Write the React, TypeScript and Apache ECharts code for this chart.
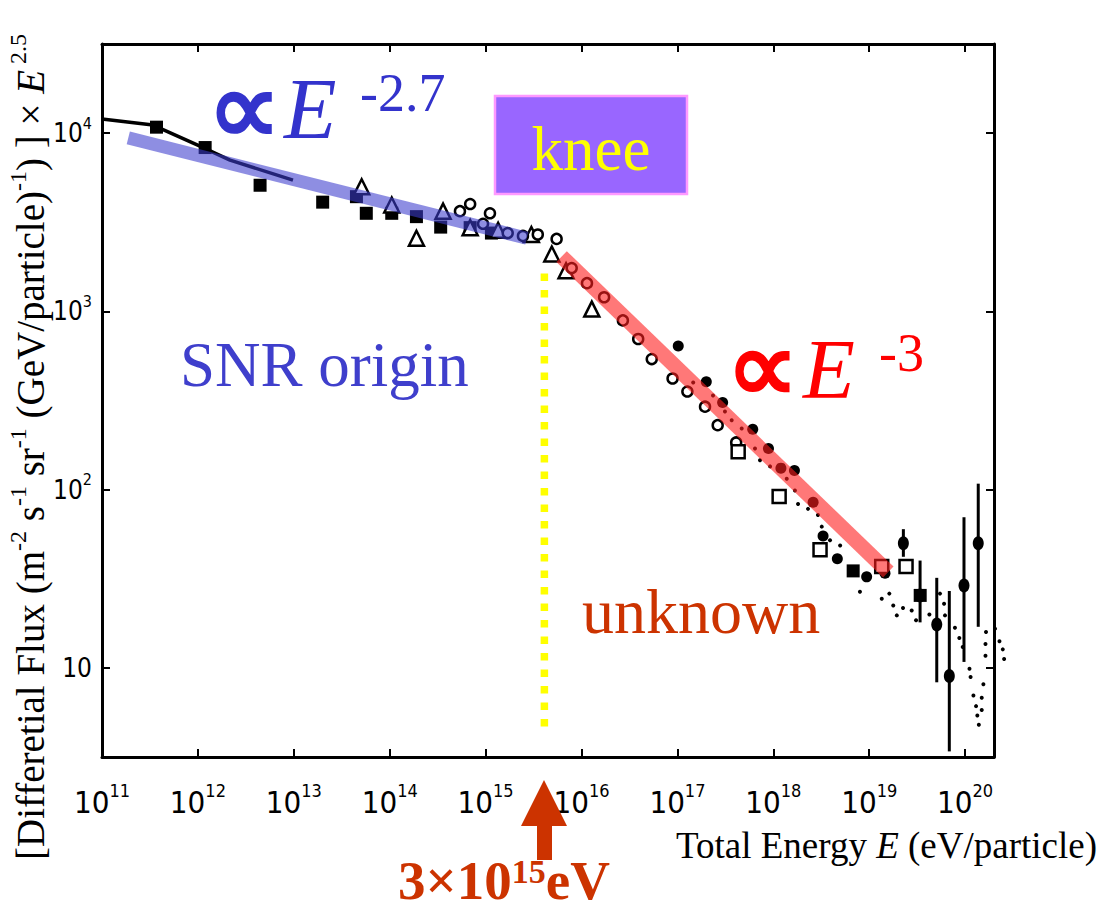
import React, { useEffect, useRef } from 'react';
import * as echarts from 'echarts';

const W = 1106;
const H = 914;

// Axis ranges (eV, flux × E^2.5)
const xRange = [1e11, 2e20];
const yRange = [Math.pow(10, 0.5), Math.pow(10, 4.5)];

// Data: [energy eV, flux]
const blackLine: [number, number][] = [
  [1e11, 12000], [3.4e11, 11100], [1.05e12, 8450], [2.16e12, 7050], [9.8e12, 5450],
];
const filledSquares: [number, number][] = [
  [3.7e11, 10800], [1.19e12, 8300], [4.45e12, 5100], [2.0e13, 4100], [4.5e13, 4400],
  [5.7e13, 3550], [1.05e14, 3550], [1.9e14, 3400], [3.4e14, 2970], [6.9e14, 2950],
  [1.15e15, 2750], [6.8e18, 35], [3.4e19, 25.5],
];
const openTriangles: [number, number][] = [
  [5.1e13, 5000], [1.05e14, 3950], [1.9e14, 2570], [3.6e14, 3650], [6.9e14, 2950],
  [1.35e15, 2850], [3.0e15, 2700], [4.9e15, 2100], [6.9e15, 1690], [1.28e16, 1030],
];
const openCircles: [number, number][] = [
  [5.4e14, 3650], [6.9e14, 4000], [9.4e14, 3100], [1.11e15, 3550], [1.7e15, 2750],
  [2.45e15, 2650], [3.5e15, 2700], [5.5e15, 2550], [7.9e15, 1750], [1.14e16, 1440],
  [1.72e16, 1200], [2.7e16, 890], [3.9e16, 700], [5.4e16, 540], [8.9e16, 420],
  [1.27e17, 355], [1.94e17, 292], [2.63e17, 230], [4.1e17, 184],
];
const filledCircles: [number, number][] = [
  [1.02e17, 640], [2.0e17, 403], [2.96e17, 308], [6.1e17, 218], [8.9e17, 170],
  [1.2e18, 132], [1.66e18, 128], [2.6e18, 85], [3.3e18, 55], [4.65e18, 41],
  [9.4e18, 32.4], [1.46e19, 34],
];
const openSquares: [number, number][] = [
  [4.3e17, 163], [1.15e18, 91.5], [3.07e18, 46], [1.35e19, 37], [2.42e19, 37],
];
const smallDots: [number, number][] = [
  [1.46e17, 399], [2.35e17, 337], [3.13e17, 274], [3.68e17, 245], [4.68e17, 220],
  [6.44e17, 170], [7.26e17, 146], [9.25e17, 135], [1.38e18, 115], [1.68e18, 99],
  [1.81e18, 83], [2.3e18, 78], [2.92e18, 72], [3.2e18, 62], [3.9e18, 52],
  [4.97e18, 48.6], [8.0e18, 26.7], [1.35e19, 24.4], [1.62e19, 26.1], [1.78e19, 22.4],
  [1.94e19, 19.7], [2.25e19, 21.7], [2.77e19, 21.0], [3.08e19, 18.5], [4.24e19, 19.9],
  [5.47e19, 26.1], [6.03e19, 22.9], [6.17e19, 19.7], [7.83e19, 16.8], [8.69e19, 14.7],
  [9.44e19, 13.1], [1.11e20, 9.9], [1.14e20, 8.9], [1.22e20, 7.0], [1.3e20, 6.1],
  [1.34e20, 5.4], [1.39e20, 4.8], [1.49e20, 6.8], [1.55e20, 8.1], [1.49e20, 5.8],
  [1.65e20, 15.9], [1.63e20, 13.6], [1.63e20, 11.7], [2.05e20, 16.6], [2.28e20, 14.1],
  [2.47e20, 12.7], [2.55e20, 11.2],
];
// [energy, value, low, high]
const errorBars: [number, number, number, number][] = [
  [2.27e19, 50, 42, 60], [3.39e19, 25.5, 18, 40], [5.06e19, 17.5, 8.3, 32],
  [6.84e19, 9.0, 3.4, 27], [9.73e19, 29, 10.8, 70], [1.37e20, 50, 17, 108],
];
const blueBand: [number, number][] = [[1.88e11, 9400], [2.69e15, 2570]];
const redBand: [number, number][] = [[6.2e15, 2030], [1.58e19, 34.5]];
const kneeLine: [number, number][] = [[4.1e15, 1630], [4.1e15, 4.23]];

const SERIF = "'Liberation Serif', 'Times New Roman', Times, serif";
const SANS = "'Liberation Sans Narrow', 'DejaVu Sans Condensed', 'Liberation Sans', Arial, sans-serif";

export default function App() {
  const ref = useRef<HTMLDivElement>(null);

  useEffect(() => {
    if (!ref.current) return;
    const chart = echarts.init(ref.current, null, { renderer: 'svg' });

    const fmt = (v: number) => {
      const e = Math.log10(v);
      const r = Math.round(e);
      if (Math.abs(e - r) > 1e-6) return '';
      if (r === 1) return '{b|10}';
      return `{b|10}{s|${r}}`;
    };

    const axisLine = { show: true, onZero: false, lineStyle: { color: '#000', width: 3 } };
    const axisTick = { show: true, inside: true, length: 8, lineStyle: { color: '#000', width: 2 } };

    const xRich = {
      b: { fontSize: 31, fontFamily: SANS, color: '#000', lineHeight: 42 },
      s: { fontSize: 18, fontFamily: SANS, color: '#000', verticalAlign: 'top', lineHeight: 18 },
    };
    const yRich = {
      b: { fontSize: 26, fontFamily: SANS, color: '#000', lineHeight: 36 },
      s: { fontSize: 16, fontFamily: SANS, color: '#000', verticalAlign: 'top', lineHeight: 16 },
    };

    const marker = (name: string, data: any, symbol: string, size: any, filled: boolean, extra: any = {}) => ({
      name,
      type: 'scatter',
      data,
      symbol,
      symbolSize: size,
      clip: false,
      z: 3,
      itemStyle: filled
        ? { color: '#000', borderWidth: 0, opacity: 1 }
        : { color: '#fff', borderColor: '#000', borderWidth: 2.5, opacity: 1 },
      ...extra,
    });

    const option: any = {
      animation: false,
      backgroundColor: '#fff',
      grid: { left: 102, right: 112, top: 44, bottom: 157, containLabel: false, outerBoundsMode: 'none' },
      xAxis: [
        {
          type: 'log', logBase: 10, min: xRange[0], max: xRange[1], position: 'bottom',
          axisLine, axisTick, splitLine: { show: false }, minorTick: { show: false },
          axisLabel: { show: true, formatter: fmt, margin: 24, rich: xRich, showMinLabel: true, showMaxLabel: false },
        },
        {
          type: 'log', logBase: 10, min: xRange[0], max: xRange[1], position: 'top',
          axisLine, axisTick, splitLine: { show: false }, axisLabel: { show: false },
        },
      ],
      yAxis: [
        {
          type: 'log', logBase: 10, min: yRange[0], max: yRange[1], position: 'left',
          axisLine, axisTick, splitLine: { show: false }, minorTick: { show: false },
          axisLabel: { show: true, formatter: fmt, margin: 10, rich: yRich, showMinLabel: false, showMaxLabel: false },
        },
        {
          type: 'log', logBase: 10, min: yRange[0], max: yRange[1], position: 'right',
          axisLine, axisTick, splitLine: { show: false }, axisLabel: { show: false },
        },
      ],
      series: [
        {
          name: 'fit', type: 'line', data: blackLine, symbol: 'none', z: 2, clip: false,
          lineStyle: { color: '#000', width: 3.5 },
        },
        marker('filled squares', filledSquares, 'rect', 13, true),
        marker('open triangles', openTriangles, 'triangle', 15, false),
        marker('open circles', openCircles, 'circle', 10, false),
        marker('filled circles', filledCircles, 'circle', 11, true),
        marker('open squares', openSquares, 'rect', 13, false),
        marker('dots', smallDots, 'circle', 4, true),
        {
          name: 'error bars', type: 'custom', data: errorBars, clip: false, z: 3,
          encode: { x: 0, y: [2, 3] },
          renderItem: (params: any, api: any) => {
            const x = api.value(0);
            const p1 = api.coord([x, api.value(2)]);
            const p2 = api.coord([x, api.value(3)]);
            return {
              type: 'line',
              shape: { x1: p1[0], y1: p1[1], x2: p2[0], y2: p2[1] },
              style: { stroke: '#000', lineWidth: 3 },
            };
          },
        },
        marker('error points', errorBars.map((d) => [d[0], d[1]]), 'circle', [11, 14], true),
        {
          name: 'E^-2.7', type: 'line', data: blueBand, symbol: 'none', z: 6, clip: false,
          lineStyle: { color: 'rgba(60,60,205,0.58)', width: 13, cap: 'butt' },
        },
        {
          name: 'E^-3', type: 'line', data: redBand, symbol: 'none', z: 6, clip: false,
          lineStyle: { color: 'rgba(255,30,30,0.6)', width: 15, cap: 'butt' },
        },
        {
          name: 'knee', type: 'line', data: kneeLine, symbol: 'none', z: 6, clip: false,
          lineStyle: { color: '#ffff00', width: 7.5, type: [7.5, 9], cap: 'butt' },
        },
      ],
      graphic: [
        {
          type: 'rect', z: 10,
          shape: { x: 495, y: 96, width: 192, height: 98 },
          style: { fill: '#9966ff', stroke: '#ff99ff', lineWidth: 2.5 },
        },
        {
          type: 'text', z: 11, x: 591, y: 149,
          style: { text: 'knee', fontSize: 63, fontFamily: SERIF, fill: '#ffff00', align: 'center', verticalAlign: 'middle' },
        },
        // ∝ E^-2.7 (blue)
        {
          type: 'text', z: 11, x: 207, y: 108,
          style: { text: '∝', fontSize: 104, fontFamily: SERIF, fontWeight: 'bold', fill: '#3333cc', align: 'left', verticalAlign: 'middle' },
        },
        {
          type: 'text', z: 11, x: 284, y: 109,
          style: { text: 'E', fontSize: 86, fontStyle: 'italic', fontFamily: SERIF, fill: '#3333cc', align: 'left', verticalAlign: 'middle' },
        },
        {
          type: 'text', z: 11, x: 360, y: 93,
          style: { text: '-2.7', fontSize: 54, fontFamily: SERIF, fill: '#3333cc', align: 'left', verticalAlign: 'middle' },
        },
        // ∝ E^-3 (red)
        {
          type: 'text', z: 11, x: 726, y: 367,
          style: { text: '∝', fontSize: 102, fontFamily: SERIF, fontWeight: 'bold', fill: '#ff0000', align: 'left', verticalAlign: 'middle' },
        },
        {
          type: 'text', z: 11, x: 803, y: 369,
          style: { text: 'E', fontSize: 85, fontStyle: 'italic', fontFamily: SERIF, fill: '#ff0000', align: 'left', verticalAlign: 'middle' },
        },
        {
          type: 'text', z: 11, x: 879, y: 353,
          style: { text: '-3', fontSize: 54, fontFamily: SERIF, fill: '#ff0000', align: 'left', verticalAlign: 'middle' },
        },
        {
          type: 'text', z: 11, x: 180, y: 365,
          style: { text: 'SNR origin', fontSize: 63, fontFamily: SERIF, fill: '#3f3fcc', align: 'left', verticalAlign: 'middle' },
        },
        {
          type: 'text', z: 11, x: 582, y: 611,
          style: { text: 'unknown', fontSize: 64, fontFamily: SERIF, fill: '#cc3300', align: 'left', verticalAlign: 'middle' },
        },
        // arrow
        {
          type: 'polygon', z: 11,
          shape: { points: [[544, 780], [567, 826], [552, 826], [552, 860], [537, 860], [537, 826], [521, 826]] },
          style: { fill: '#cc3300' },
        },
        {
          type: 'text', z: 11, x: 398, y: 880,
          style: {
            text: '{a|3×10}{s|15}{a|eV}',
            fill: '#cc3300', align: 'left', verticalAlign: 'middle',
            rich: {
              a: { fontSize: 55, fontFamily: SERIF, fontWeight: 'bold', fill: '#cc3300', lineHeight: 52 },
              s: { fontSize: 34, fontFamily: SERIF, fontWeight: 'bold', fill: '#cc3300', verticalAlign: 'top', lineHeight: 30 },
            },
          },
        },
        // x axis title
        {
          type: 'text', z: 11, x: 676, y: 845,
          style: {
            text: '{b|Total Energy }{i|E}{b| (eV/particle)}',
            align: 'left', verticalAlign: 'middle',
            rich: {
              b: { fontSize: 37, fontFamily: SERIF, fill: '#000' },
              i: { fontSize: 37, fontFamily: SERIF, fontStyle: 'italic', fill: '#000' },
            },
          },
        },
        // y axis title
        {
          type: 'text', z: 11, x: 30, y: 447, rotation: Math.PI / 2,
          style: {
            text: '{b|[Differetial Flux (m}{s|-2}{b| s}{s|-1}{b| sr}{s|-1}{b| (GeV/particle)}{s|-1}{b|) ] × }{i|E}{s| 2.5}',
            align: 'center', verticalAlign: 'middle',
            rich: {
              b: { fontSize: 39, fontFamily: SERIF, fill: '#000', lineHeight: 48 },
              i: { fontSize: 39, fontFamily: SERIF, fontStyle: 'italic', fill: '#000', lineHeight: 48 },
              s: { fontSize: 24, fontFamily: SERIF, fill: '#000', verticalAlign: 'top', lineHeight: 24 },
            },
          },
        },
      ],
    };

    chart.setOption(option);
    return () => chart.dispose();
  }, []);

  return (
    <div
      ref={ref}
      style={{ position: 'fixed', left: 0, top: 0, width: W, height: H, background: '#fff' }}
    />
  );
}
